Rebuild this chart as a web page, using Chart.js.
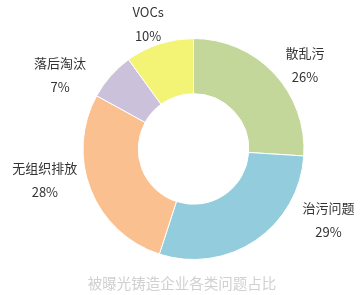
<!DOCTYPE html>
<html>
<head>
<meta charset="utf-8">
<script src="https://cdn.jsdelivr.net/npm/chart.js@4/dist/chart.umd.min.js"></script>
<style>
  html, body { margin: 0; padding: 0; background: #fff; }
  #wrap { width: 364px; height: 295px; position: relative; }
</style>
</head>
<body>
<div id="wrap"><canvas id="chart" width="364" height="295"></canvas></div>
<script>
// Data (clockwise from 12 o'clock)
const categories = ['散乱污', '治污问题', '无组织排放', '落后淘汰', 'VOCs'];
const shares = [26, 29, 28, 7, 10];
const sliceColors = ['#C4D79B', '#93CDDD', '#FAC090', '#CCC1DA', '#F3F476'];
const chartTitle = '被曝光铸造企业各类问题占比';

// label placement: pushed out from the slice middle, then nudged by hand
const labelGap = 30;
const labelNudge = [[9, 12], [56, -45], [-18, -21], [-28, 19], [-2, 9]];

const FONT = '"Noto Sans CJK SC", "Noto Sans", sans-serif';

const outsideLabels = {
    id: 'outsideLabels',
    afterDraw(chart) {
        const ctx = chart.ctx;
        const meta = chart.getDatasetMeta(0);
        ctx.save();
        ctx.textAlign = 'center';
        ctx.textBaseline = 'middle';
        meta.data.forEach((arc, i) => {
            const mid = (arc.startAngle + arc.endAngle) / 2;
            const r = arc.outerRadius + labelGap;
            const x = arc.x + Math.cos(mid) * r + labelNudge[i][0];
            const y = arc.y + Math.sin(mid) * r + labelNudge[i][1];
            ctx.fillStyle = '#333';
            ctx.font = '13px ' + FONT;
            ctx.fillText(categories[i], x, y - 12);
            ctx.fillText(shares[i] + '%', x, y + 12);
        });
        // caption under the ring
        ctx.fillStyle = '#d0d0d0';
        ctx.font = '14.5px ' + FONT;
        ctx.fillText(chartTitle, chart.width / 2, 283);
        ctx.restore();
    }
};

new Chart(document.getElementById('chart'), {
    type: 'doughnut',
    data: {
        labels: categories,
        datasets: [{
            data: shares,
            backgroundColor: sliceColors,
            borderColor: '#ffffff',
            borderWidth: 1
        }]
    },
    options: {
        responsive: false,
        animation: false,
        cutout: '50%',
        layout: { padding: { left: 82, right: 59, top: 38, bottom: 35 } },
        plugins: {
            legend: { display: false },
            tooltip: { enabled: false }
        }
    },
    plugins: [outsideLabels]
});
</script>
</body>
</html>
